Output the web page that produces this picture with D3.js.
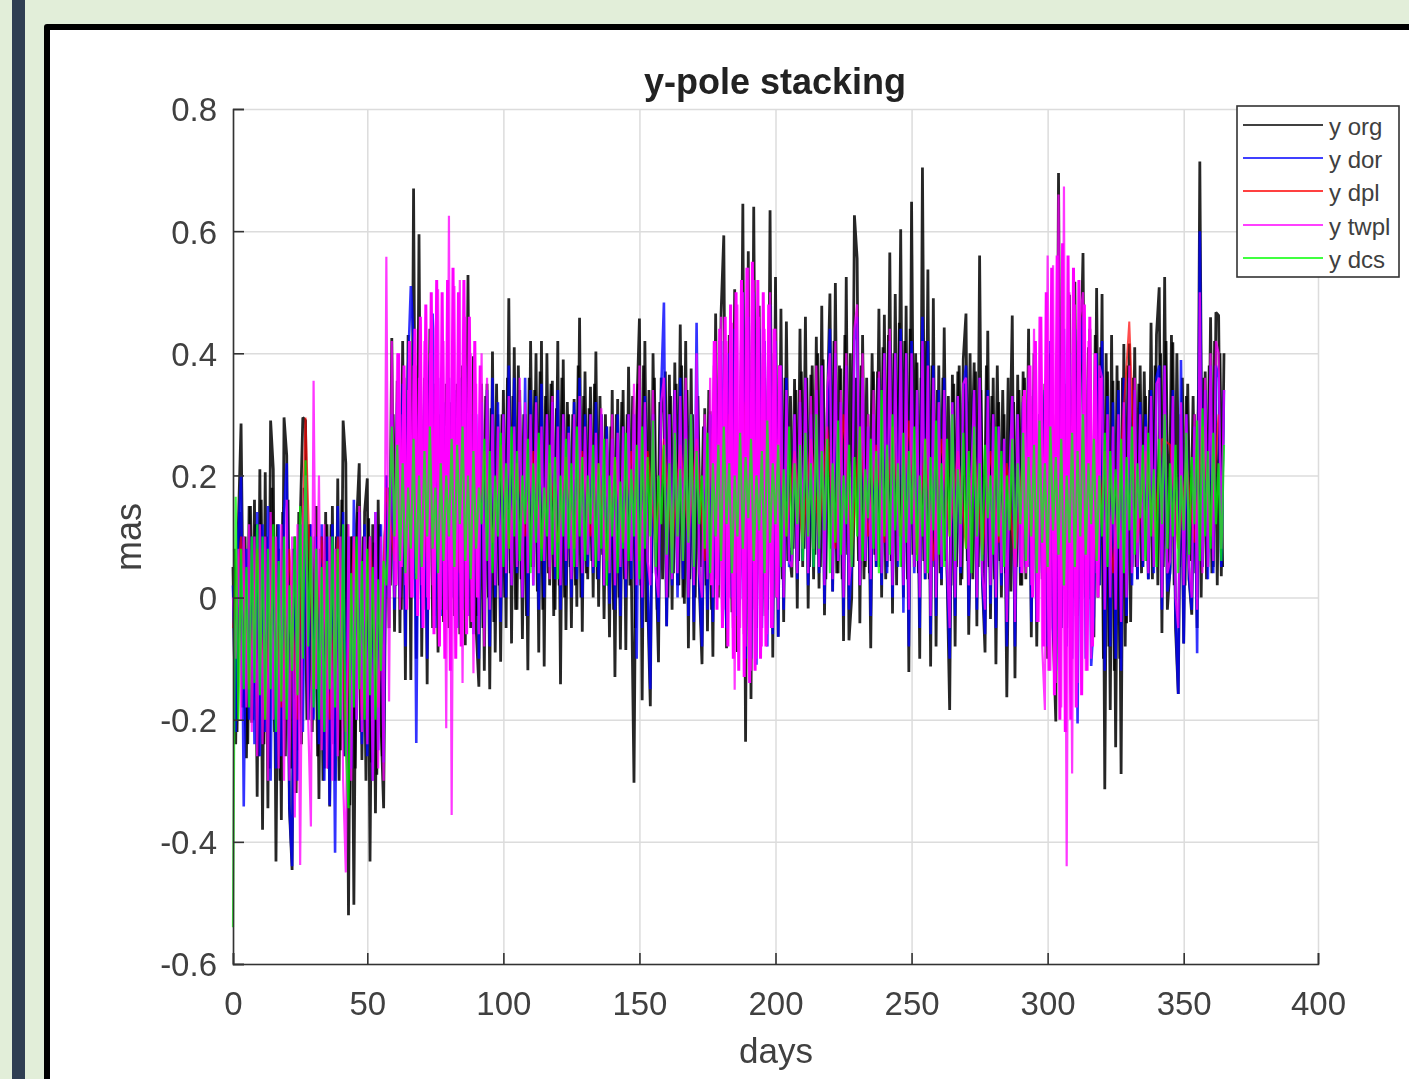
<!DOCTYPE html>
<html>
<head>
<meta charset="utf-8">
<script src="https://cdn.jsdelivr.net/npm/d3@7"></script>
<style>
  html, body { margin: 0; padding: 0; background: #e2eed9; overflow: hidden; }
  #side { position: absolute; left: 12px; top: 0; width: 13px; height: 1079px; background: #2f3e52; }
  #panel { position: absolute; left: 44px; top: 24px; width: 1400px; height: 1100px; background: #fff;
           border: 6px solid #000; border-radius: 3px; }
  svg { position: absolute; left: 0; top: 0; filter: blur(0.6px); }
  text { font-family: "Liberation Sans", Arial, sans-serif; fill: #404040; }
</style>
</head>
<body>
<div id="side"></div>
<div id="panel"></div>
<svg id="chart" width="1409" height="1079"></svg>
<script>
// tick labels
const xTicks = [0, 50, 100, 150, 200, 250, 300, 350, 400];
const yTicks = [-0.6, -0.4, -0.2, 0, 0.2, 0.4, 0.6, 0.8];

// values, one per day (mas)
const yOrg = [
.05,-.24,.12,.285,-.12,-.263,.15,-.205,.16,-.326,
.21,-.38,.205,-.345,.29,.21,-.432,.08,-.364,.295,
.233,-.345,-.446,.1,-.25,.12,.295,.29,-.2,.1,
-.15,.15,-.33,.1,-.28,.12,-.342,.15,-.3,.195,
-.25,.29,.22,-.52,.1,-.503,.12,.22,-.266,.14,
.195,-.432,.12,-.353,.16,-.2,-.345,.2,-.05,.425,
-.056,.355,-.058,.42,-.135,.43,-.135,.67,-.1,.595,
-.097,.36,-.142,.44,-.05,.35,-.09,.3,-.04,.35,
-.05,.32,-.03,.35,-.06,.38,-.078,.528,-.05,.395,
-.05,-.146,.35,-.12,.35,-.15,.403,-.09,.3,-.105,
.34,-.05,.49,-.075,.41,-.02,.34,-.068,.3,-.119,
.42,.05,.40,-.09,.42,-.113,.40,.02,.355,-.02,
.42,-.142,.39,-.053,.30,-.05,.325,-.015,.458,-.056,
.37,.03,.345,.0,.403,-.015,.3,-.035,.28,-.065,
.34,-.13,.325,-.085,.34,-.086,.378,.05,-.303,.3,
.457,-.168,.42,.0,-.178,.40,.08,-.106,.36,.3,
-.047,.365,-.02,.385,.02,.447,.0,.42,-.083,.375,
-.07,.3,.02,-.109,.31,-.055,.305,-.097,.465,.0,
.465,.593,-.083,.43,-.024,.505,-.089,.05,.645,-.236,
.567,-.166,.64,-.05,.478,-.03,.36,-.02,.634,-.098,
.525,-.064,.473,-.04,.452,.08,.033,.358,-.018,.44,
.05,.46,-.018,.365,.03,.427,.015,.478,-.029,.3,
.498,.01,.515,.04,.375,-.071,.525,-.07,.0,.626,
.555,-.042,.43,.05,.3,-.083,.37,.05,.473,.0,
.463,.05,.565,-.026,.497,.1,.603,.0,.478,-.122,
.648,.05,.385,-.1,.704,.03,.537,-.113,.49,-.08,
.38,.02,.442,.05,-.184,.365,-.08,.37,.02,.39,
.465,-.061,.2,.385,-.047,.56,.03,-.09,.437,-.035,
.36,-.109,.32,.0,.30,-.163,.2,.462,-.132,.365,
.02,.37,.03,.44,-.065,.4,-.08,.3,.03,.35,
-.1,.4,-.05,-.203,.695,-.05,.35,-.05,.496,.0,
.517,-.03,.35,.564,.0,.41,.0,-.065,.507,.02,
.497,-.314,.37,-.184,.355,-.245,.355,-.289,.415,-.042,
.416,.05,.41,.03,.38,.05,.33,.03,.45,.05,
.43,.508,-.058,.525,-.02,.05,.418,-.05,-.158,.3,
-.075,.33,.03,-.028,.3,-.05,.714,.05,.37,.05,
.459,.05,.467,.462,.035,.40
];
// the half-day samples of y org, the dark mass between the spikes
const yOrgMid = [
.08,-.22,.14,-.18,.1,-.24,.15,-.2,.12,-.26,
.16,-.24,.1,-.28,.18,-.22,.12,-.3,.14,-.26,
.16,-.28,.08,-.32,.14,-.24,.18,-.2,.12,-.22,
.1,-.26,.08,-.3,.14,-.28,.12,-.24,.1,-.3,
.16,-.26,.12,-.34,.1,-.28,.14,-.22,.1,-.3,
.13,-.27,.09,-.29,.12,-.26,.1,.18,.02,.3,
.02,.34,-.02,.36,.0,.33,.03,.38,.0,.35,
-.02,.32,.02,.37,-.03,.34,.0,.3,.03,.33,
.0,.35,-.02,.31,.02,.36,-.04,.34,.0,.32,
-.03,.3,-.05,.33,.0,.31,-.04,.35,.02,.3,
.0,.36,.04,.33,-.02,.38,.03,.3,-.03,.36,
.05,.34,.01,.37,-.02,.33,.04,.35,-.03,.31,
.02,.36,.0,.32,.05,.3,.02,.38,.0,.33,
.04,.31,.06,.35,.03,.33,.07,.3,.02,.28,
-.02,.3,.0,.32,.03,.3,.02,.33,-.05,.35,
.02,.38,-.04,.34,.04,.36,-.02,.32,.03,.37,
.0,.33,.04,.35,.02,.38,-.01,.34,.03,.3,
.0,.33,.05,.28,.02,.34,-.02,.38,.03,.42,
-.03,.4,.02,.43,-.05,.41,.0,.44,-.06,.42,
-.04,.45,-.02,.43,.0,.4,-.03,.44,.02,.4,
.0,.38,.03,.36,.06,.33,.08,.34,.06,.37,
.08,.36,.05,.38,.07,.4,.05,.39,.03,.37,
.08,.42,.04,.38,.03,.43,.07,.4,.05,.36,
.06,.38,.03,.36,.04,.4,.07,.37,.05,.41,
.03,.43,.06,.4,.02,.45,.05,.42,.03,.44,
.07,.4,.04,.36,.06,.42,.03,.38,.05,.34,
.04,.36,.06,.33,.02,.35,.05,.38,.03,.35,
.06,.4,.03,.37,.05,.34,.02,.38,.05,.33,
.03,.38,.06,.34,.04,.36,.01,.32,.05,.34,
.02,.36,.05,.33,.07,.3,.06,.31,.03,.36,
.05,.34,.03,.37,.01,.34,.04,.38,.0,.36,
-.03,.42,.0,.45,-.03,.44,-.05,.43,.0,.41,
-.1,.4,-.08,.43,-.12,.38,-.1,.36,-.08,.38,
-.04,.36,.05,.35,.04,.37,.06,.34,.03,.38,
.02,.4,.05,.42,.03,.43,.02,.4,.05,.36,
.02,.35,.06,.33,.04,.34,.0,.36,.03,.38,
.04,.42,.02,.4,.05
];
const yDor = [
.02,-.22,.1,.2,-.342,.08,-.2,.1,-.24,.14,
-.26,.12,-.22,.15,-.3,.1,-.28,.12,-.26,.14,
.22,-.34,-.44,.08,-.3,.12,-.22,.18,-.2,.12,
-.2,.1,-.24,.12,-.3,.1,-.34,.12,-.418,.15,
-.2,.14,-.26,.1,-.28,.16,-.2,.14,-.24,.12,
-.26,.1,-.3,.14,-.25,.12,-.27,.2,.0,.3,
-.02,.32,.0,.35,-.08,.38,.51,.42,-.238,.3,
-.05,.34,-.1,.38,.465,-.05,.36,-.03,.32,-.02,
.36,.0,.34,-.05,.36,-.02,.38,-.03,.3,-.06,
.3,-.1,.32,-.05,.34,-.08,.36,.0,.32,-.04,
.3,.0,.38,.02,.36,.04,.32,.0,.36,-.03,
.34,.02,.33,-.02,.35,.0,.3,.05,.32,.03,
.34,-.02,.3,.02,.28,.0,.32,.03,.36,.0,
.3,.05,.3,.04,.32,.03,.3,.02,.28,-.01,
.26,-.02,.3,-.03,.28,.0,.3,.03,.3,-.1,
.34,-.05,.33,.03,-.15,.3,.05,-.04,.34,.483,
-.047,.3,.02,.34,.0,.36,.03,.34,-.03,.3,
-.04,.45,.03,-.08,.28,-.02,.3,-.04,.36,.02,
.42,.1,-.05,.4,.0,.44,-.03,.0,.5,-.1,
.46,-.1,.5,-.11,.44,-.05,.42,-.08,.48,-.06,
.42,-.064,.38,-.02,.36,.05,.06,.3,.03,.32,
.06,.36,.02,.3,.05,.34,.04,.38,-.01,.3,
.44,.01,.4,.06,.32,-.03,.38,-.02,.05,.42,
.46,.02,.36,.06,.28,-.03,.3,.05,.36,.02,
.4,.04,.42,.0,.4,.05,.44,-.025,.4,-.08,
.42,.04,.34,-.05,.46,.03,.42,-.06,.38,-.03,
.34,.03,.36,.05,-.1,.32,-.03,.33,.04,.34,
.38,-.03,.2,.34,-.02,.36,.03,-.06,.34,-.01,
.3,-.05,.28,.02,.26,-.08,.2,.33,-.08,.3,
.04,.32,.05,.36,-.04,.34,-.04,.3,.04,.34,
-.08,.42,-.05,-.12,.46,-.05,.44,-.08,.4,-.1,
.44,-.206,.38,.46,-.1,.36,-.112,-.03,.4,.02,
.42,-.12,.33,-.08,.32,-.1,.34,-.12,.36,-.03,
.36,.02,.34,.03,.32,.05,.3,.03,.34,.04,
.36,.38,-.02,.38,.01,.04,.34,-.03,-.158,.389,
-.075,.3,.03,-.02,.28,-.091,.6,.05,.34,.03,
.38,.04,.38,.36,.05,.34
];
// y dpl was read every third day, most of it sits under y twpl
const yDpl = [
-.05,.1,-.15,.08,-.2,.1,-.18,.08,-.2,.295,
-.15,.1,-.2,.1,-.22,.1,-.2,.1,-.18,.18,
.06,.26,.08,.28,.06,.3,.08,.26,.04,.24,
.08,.24,.09,.25,.08,.22,.1,.24,.08,.22,
.09,.23,.08,.24,.1,.22,.06,.23,.09,.24,
.06,.24,.09,.26,.08,.25,.1,.26,.06,.28,
.07,.3,.04,.32,.06,.3,.09,.26,.1,.24,
.09,.26,.1,.28,.08,.3,.07,.28,.1,.25,
.09,.28,.1,.29,.07,.26,.06,.26,.1,.24,
.08,.25,.07,.24,.09,.22,.05,.24,.09,.26,
.04,.3,.02,.3,.08,.26,.06,.24,.04,.24,
.452,.09,.24,.1,.26,.25,.08,.22,.09,.28,
.1,.3
];
const yTwpl = [
.0,-.1,.08,-.2,.1,-.18,.12,-.22,.1,-.26,
.12,-.24,.1,-.3,.14,-.2,.1,-.28,.12,-.3,
.16,-.3,.1,-.36,.12,-.438,.1,.2,-.2,-.375,
.355,-.15,.2,-.25,.12,-.28,.1,-.3,.08,-.26,
.1,-.3,-.45,.12,-.3,.1,-.2,.15,-.22,.1,
-.24,.1,-.3,.14,-.28,.1,-.3,.558,-.17,.42,
.0,.4,-.02,.3,.02,.34,.0,.38,.04,.36,
.02,.42,.0,.4,.02,.44,.505,-.02,.42,-.214,
.625,-.356,.51,-.05,.52,-.14,.46,-.03,.4,-.124,
.35,-.06,.4,-.08,.36,-.02,.3,.02,.28,.0,
.3,.04,.33,.02,.28,.05,.36,.0,.32,.04,
.3,.02,.32,.04,.28,.06,.3,.03,.33,.05,
.28,.02,.3,.06,.27,.03,.3,.05,.33,.04,
.28,.07,.3,.05,.27,.06,.31,.02,.26,.04,
.3,.02,.27,.05,.28,.03,.3,.06,.35,.02,
.38,.0,.32,.06,.02,.34,.04,.0,.32,.36,
.0,.3,.03,.34,.04,.33,.06,.36,.0,.3,
.02,.4,.04,.0,.3,.03,.36,.0,.42,.02,
.46,-.02,.42,.0,.45,-.151,.48,-.05,.5,-.08,
.54,-.12,.52,-.1,.46,-.08,.44,-.06,.5,-.05,
.44,-.02,.38,.0,.34,.06,.05,.3,.04,.34,
.08,.36,.04,.33,.08,.38,.05,.38,.02,.34,
.4,.03,.42,.06,.34,.0,.4,.02,.07,.44,
.48,.02,.4,.06,.3,.03,.34,.06,.37,.04,
.4,.06,.44,.02,.4,.06,.42,.02,.4,-.02,
.4,.05,.34,.0,.42,.04,.38,-.03,.36,.0,
.32,.05,.34,.06,-.05,.32,.0,.33,.05,.35,
.36,.02,.2,.34,.0,.36,.04,-.02,.33,.02,
.3,.0,.28,.04,.26,-.04,.2,.33,-.04,.3,
.05,.33,.04,.38,.02,.44,-.04,.46,-.08,-.184,
.56,-.12,.544,-.14,.66,-.18,.673,-.44,.5,-.288,
.48,-.14,.46,.5,-.12,.42,-.1,.34,.04,.38,
.36,-.02,.3,.0,.28,-.02,.3,-.04,.32,.0,
.38,.04,.36,.05,.3,.06,.28,.04,.33,.05,
.35,.36,.0,.38,.04,.06,.33,.0,-.05,.32,
.02,.3,.05,.0,.3,-.02,.5,.04,.36,.05,
.4,.06,.42,.4,.08,.34
];
// half-day samples of y twpl inside its three bursts
const twplBurstStart = [60.5, 176.5, 290.5];
const yTwplBurstA = [
.02,.4,.05,.38,-.02,.42,.0,.44,-.03,.46,-.05,.48,-.02,.5,-.06,.52,
-.08,.5,-.1,.52,-.12,.54,-.1,.5,-.08,.52,-.06,.46,-.04,.42,.0,.38
];
const yTwplBurstB = [
.02,.42,-.02,.44,-.05,.46,-.08,.48,-.1,.5,-.12,.52,-.13,.54,
-.14,.55,-.12,.52,-.1,.5,-.08,.48,-.05,.44,.0,.38
];
const yTwplBurstC = [
.04,.34,.05,.38,.0,.42,-.04,.46,-.08,.5,-.12,.54,-.16,.56,-.2,.58,
-.22,.56,-.2,.54,-.18,.52,-.16,.48,-.12,.46,-.08,.4,.0,.36
];
const yDcs = [
-.54,.165,-.2,.08,-.15,.05,-.18,.1,-.14,.12,
-.16,.1,-.2,.08,-.15,.12,-.22,.06,-.17,.1,
-.2,.02,-.12,.1,-.16,.15,-.1,.225,-.08,.1,
-.18,.08,-.2,.05,-.22,.06,-.15,.1,-.18,.08,
-.2,.12,-.25,-.345,.04,-.18,.1,-.15,.06,-.2,
.08,-.16,.05,-.2,.03,-.12,.06,.02,.12,.28,
.1,.25,.06,.22,.04,.18,.08,.26,.03,.2,
.05,.24,.1,.28,.08,.18,.04,.22,.06,.2,
.1,.26,.05,.25,.12,.28,.06,.2,.03,.24,
.08,.18,.12,.26,.06,.24,.04,.2,.1,.27,
.05,.22,.08,.28,.1,.24,.06,.2,.12,.26,
.04,.22,.09,.27,.06,.18,.1,.25,.07,.23,
.03,.2,.1,.26,.08,.22,.05,.28,.1,.23,
.06,.2,.12,.25,.05,.22,.08,.26,.02,.2,
.1,.23,.04,.19,.08,.27,.06,.21,.1,.25,
.03,.28,.08,.23,.1,.29,.05,.2,.12,.25,
.07,.22,.04,.27,.1,.21,.06,.26,.09,.3,
.05,.24,.12,.2,.08,.27,.04,.22,.1,.25,
.06,.28,.12,.22,.04,.2,.1,.27,.08,.23,
.13,.26,.06,.2,.11,.24,.04,.29,.09,.22,
.12,.25,.05,.21,.1,.28,.07,.22,.12,.25,
.06,.27,.1,.22,.05,.3,.08,.24,.11,.26,
.04,.22,.09,.29,.07,.2,.12,.25,.05,.23,
.1,.28,.06,.21,.13,.26,.08,.24,.04,.34,
.1,.25,.07,.3,.11,.22,.05,.27,.09,.24,
.12,.28,.06,.2,.1,.26,.04,.23,.11,.29,
.07,.22,.05,.26,.1,.3,.06,.21,.12,.27,
.08,.24,.04,.28,.1,.22,.06,.25,.13,.2,
.07,.28,.1,.24,.05,.2,.11,.26,.08,.22,
.12,.27,.06,.23,.1,.25,.04,.29,.09,.22,
.05,.28,.11,.23,.07,.26,.02,.2,.09,.27,
.05,.24,.1,.3,.07,.22,.12,.26,.06,.2,
.1,.27,.05,.24,.12,.21,.08,.26,.04,.23,
.11,.28,.07,.22,.13,.25,.06,.27,.1,.21,
.05,.26,.12,.3,.08,.22,.1,.25,.04,.2,
.11,.27,.07,.23,.12,.29,.06,.31,.1,.24,
.08,.27,.12,.22,.06,.25
];

const seriesNames = ["y org", "y dor", "y dpl", "y twpl", "y dcs"];
const seriesColors = ["#000000", "#0000ff", "#ff0000", "#ff00ff", "#00ff00"];
const seriesStep = [1, 1, 3, 1, 1]; // days between samples
const seriesWidth = [2.8, 2.6, 2, 2.2, 2.2];
const seriesOpacity = [0.85, 0.8, 0.7, 0.78, 0.75]; // thin lines look washed out in the picture

const margin = { top: 109, left: 233 };
const width = 1085;
const height = 855;
const fontSize = 33;

const svg = d3.select("#chart");
const g = svg.append("g").attr("transform", `translate(${margin.left},${margin.top})`);

// the first and last 50 days are slightly narrower in the picture
const xScale = d3.scaleLinear().domain([0, 50, 350, 400]).range([0, 134.3, 950.7, width]);
const yScale = d3.scaleLinear().domain([-0.6, 0.8]).range([height, 0]);

// grid first
g.append("g")
  .attr("transform", `translate(0,${height})`)
  .call(d3.axisBottom(xScale).tickValues(xTicks).tickSize(-height).tickFormat(""))
  .call(a => a.select(".domain").remove())
  .selectAll("line").attr("stroke", "#dcdcdc").attr("stroke-width", 1.5);

g.append("g")
  .call(d3.axisLeft(yScale).tickValues(yTicks).tickSize(-width).tickFormat(""))
  .call(a => a.select(".domain").remove())
  .selectAll("line").attr("stroke", "#dcdcdc").attr("stroke-width", 1.5);

// series, same drawing order as the legend
const line = d3.line()
  .x(d => xScale(d.day))
  .y(d => yScale(d.value));

function drawSeries(values, i, offset, w, op) {
  const points = values.map((v, k) => ({ day: k * seriesStep[i] + offset, value: v }));
  g.append("path")
    .datum(points)
    .attr("fill", "none")
    .attr("stroke", seriesColors[i])
    .attr("stroke-width", w)
    .attr("stroke-opacity", op)
    .attr("stroke-linejoin", "miter")
    .attr("stroke-miterlimit", 1)
    .attr("d", line);
}

drawSeries(yOrgMid, 0, 0.5, seriesWidth[0], seriesOpacity[0]);
drawSeries(yOrg, 0, 0, seriesWidth[0], seriesOpacity[0]);
drawSeries(yDor, 1, 0, seriesWidth[1], seriesOpacity[1]);
drawSeries(yDpl, 2, 0, seriesWidth[2], seriesOpacity[2]);
[yTwplBurstA, yTwplBurstB, yTwplBurstC].forEach((b, k) => drawSeries(b, 3, twplBurstStart[k], 3, 1));
drawSeries(yTwpl, 3, 0, seriesWidth[3], seriesOpacity[3]);
drawSeries(yDcs, 4, 0, seriesWidth[4], seriesOpacity[4]);

// axes on top
const xAxis = g.append("g")
  .attr("transform", `translate(0,${height})`)
  .call(d3.axisBottom(xScale).tickValues(xTicks).tickSize(-11).tickPadding(28).tickFormat(d => String(d)));

const yAxis = g.append("g")
  .call(d3.axisLeft(yScale).tickValues(yTicks).tickSize(-11).tickPadding(16).tickFormat(d => String(d)));

[xAxis, yAxis].forEach(a => {
  a.selectAll("path, line").attr("stroke", "#333").attr("stroke-width", 1.6);
  a.selectAll("text").attr("fill", "#404040").style("font-size", fontSize + "px")
    .style("font-family", '"Liberation Sans", Arial, sans-serif');
});
yAxis.selectAll("text").attr("dy", ".36em");

// title and axis labels
svg.append("text").attr("x", 775).attr("y", 94).attr("text-anchor", "middle")
  .style("font-size", "36px").style("font-weight", "bold").style("fill", "#222").text("y-pole stacking");
svg.append("text").attr("x", 776).attr("y", 1063).attr("text-anchor", "middle")
  .style("font-size", "35px").text("days");
svg.append("text").attr("transform", "translate(141,537) rotate(-90)").attr("text-anchor", "middle")
  .style("font-size", "36px").text("mas");

// legend
const legend = svg.append("g").attr("transform", "translate(1237,106)");
legend.append("rect").attr("width", 162).attr("height", 171)
  .attr("fill", "#fff").attr("stroke", "#333").attr("stroke-width", 1.6);
const legendRow = d3.scaleOrdinal().domain(seriesNames).range([19, 52, 85, 119, 152]);
seriesNames.forEach((name, i) => {
  legend.append("line")
    .attr("x1", 6).attr("x2", 86)
    .attr("y1", legendRow(name)).attr("y2", legendRow(name))
    .attr("stroke", seriesColors[i]).attr("stroke-width", 1.6);
  legend.append("text").attr("x", 92).attr("y", legendRow(name) + 10)
    .style("font-size", "24px").text(name);
});
</script>
</body>
</html>
